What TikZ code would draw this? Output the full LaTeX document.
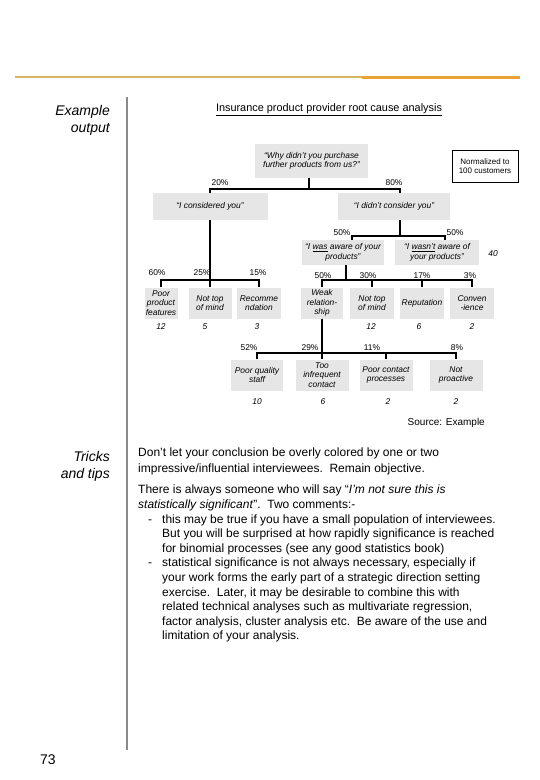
\documentclass[tikz,border=0pt]{standalone}
\usepackage{fontspec}
\setmainfont{Liberation Sans}
\definecolor{boxgray}{HTML}{E6E6E6}
\definecolor{goldA}{HTML}{D6B462}
\definecolor{goldB}{HTML}{E9A236}
\definecolor{divider}{HTML}{8A8A8A}
\begin{document}
\begin{tikzpicture}[x=1pt,y=-1pt,
  box/.style={fill=boxgray, inner sep=0.5pt, align=center, font=\fontsize{8.4}{9.4}\selectfont\itshape},
  pct/.style={font=\fontsize{8.4}{9.4}\selectfont, inner sep=0pt},
  num/.style={font=\fontsize{8.4}{9.4}\selectfont\itshape, inner sep=0pt},
  tree/.style={line width=1.5pt},
  side/.style={font=\fontsize{14}{17}\selectfont\itshape, align=right, inner sep=0pt, anchor=north east},
  body/.style={font=\fontsize{12}{14.6}\selectfont, align=left, inner sep=0pt, anchor=north west}
]
\useasboundingbox (0,0) rectangle (540,780);
% top rule
\coordinate (ruleL) at (15,77);
\coordinate (ruleM) at (362,77);
\coordinate (ruleR) at (520,77);
\draw[goldA, line width=2pt] (ruleL) -- (ruleM);
\draw[goldB, line width=3pt] (ruleM) -- (ruleR);
% divider
\coordinate (divT) at (127,97);
\coordinate (divB) at (127,750);
\draw[divider, line width=1.2pt] (divT) -- (divB);
% side labels
\node[side] (ex) at (110,105) {Example\\output};
\node[side] (tt) at (110,451) {Tricks\\and tips};
\node[font=\fontsize{14}{16}\selectfont, inner sep=0pt] (pg) at (48,760) {73};
% title
\node[font=\fontsize{10.9}{12}\selectfont, inner sep=0pt] (title) at (329,110) {\underline{Insurance product provider root cause analysis}};
% tree boxes
\node[box, minimum width=113pt, minimum height=34pt] (root) at (311.5,161) {“Why didn't you purchase\\further products from us?”};
\node[draw, fill=white, line width=0.7pt, minimum width=66pt, minimum height=32pt, align=center, inner sep=1pt, font=\fontsize{8}{9.5}\selectfont] (norm) at (485,166) {Normalized to\\100 customers};
\node[box, minimum width=115pt, minimum height=27pt] (cons) at (210,206.5) {“I considered you”};
\node[box, minimum width=112pt, minimum height=27pt] (ncons) at (394,206.5) {“I didn't consider you”};
\node[box, minimum width=82pt, minimum height=25pt] (was) at (343,252.5) {“I \underline{was} aware of your\\products”};
\node[box, minimum width=84pt, minimum height=25pt] (wasnt) at (437,252.5) {“I \underline{wasn't} aware of\\your products”};
\node[num] (n40) at (493,254) {40};
% level under "I considered you"
\node[box, minimum width=33pt, minimum height=31pt] (p1) at (161,303) {Poor\\product\\features};
\node[box, minimum width=43pt, minimum height=31pt] (p2) at (210,303) {Not top\\of mind};
\node[box, minimum width=44pt, minimum height=31pt] (p3) at (259,303) {Recomme\\ndation};
% level under "I was aware"
\node[box, minimum width=42pt, minimum height=31pt] (w1) at (322,303) {Weak\\relation-\\ship};
\node[box, minimum width=44pt, minimum height=31pt] (w2) at (372,303) {Not top\\of mind};
\node[box, minimum width=44pt, minimum height=31pt] (w3) at (422,303) {Reputation};
\node[box, minimum width=44pt, minimum height=31pt] (w4) at (472,303) {Conven\\-ience};
% level under "Weak relationship"
\node[box, minimum width=52pt, minimum height=31pt] (r1) at (257,375) {Poor quality\\staff};
\node[box, minimum width=53pt, minimum height=31pt] (r2) at (322,375) {Too\\infrequent\\contact};
\node[box, minimum width=53pt, minimum height=31pt] (r3) at (386,375) {Poor contact\\processes};
\node[box, minimum width=53pt, minimum height=31pt] (r4) at (456,375) {Not\\proactive};
% connectors
\coordinate (bar1) at (309,189);
\draw[tree] (root.south -| bar1) -- (bar1);
\draw[tree] (cons.north) |- (bar1) -| (ncons.north -| 400,0);
\coordinate (bar2) at (400,236);
\draw[tree] (ncons.south -| bar2) -- (bar2);
\coordinate (bar2L) at (352,236);
\coordinate (bar2R) at (445,236);
\draw[tree] (was.north -| bar2L) -- (bar2L) -- (bar2R) -- (wasnt.north -| bar2R);
\coordinate (bar3) at (210,280);
\draw[tree] (cons.south) -- (p2.north);
\draw[tree] (p1.north) |- (bar3) -| (p3.north);
\coordinate (bar4) at (346,280);
\draw[tree] (was.south -| bar4) -- (bar4);
\draw[tree] (w1.north) |- (bar4) -| (w4.north);
\draw[tree] (w2.north) -- (w2.north |- bar4);
\draw[tree] (w3.north) -- (w3.north |- bar4);
\coordinate (bar5) at (322,353);
\draw[tree] (w1.south) -- (r2.north);
\draw[tree] (r1.north) |- (bar5) -| (r4.north);
\draw[tree] (r3.north) -- (r3.north |- bar5);
% percentages
\node[pct] (q20) at (220,183) {20\%};
\node[pct] (q80) at (394,183) {80\%};
\node[pct] (q50a) at (342,233) {50\%};
\node[pct] (q50b) at (455,233) {50\%};
\node[pct] (q60) at (157,273) {60\%};
\node[pct] (q25) at (202,273) {25\%};
\node[pct] (q15) at (258,273) {15\%};
\node[pct] (q50c) at (323,276) {50\%};
\node[pct] (q30) at (368,276) {30\%};
\node[pct] (q17) at (422,276) {17\%};
\node[pct] (q3) at (470,276) {3\%};
\node[pct] (q52) at (249,348) {52\%};
\node[pct] (q29) at (310,348) {29\%};
\node[pct] (q11) at (372,348) {11\%};
\node[pct] (q8) at (457,348) {8\%};
% counts
\node[num] (c12a) at (161,327) {12};
\node[num] (c5) at (205,327) {5};
\node[num] (c3) at (257,327) {3};
\node[num] (c12b) at (371,327) {12};
\node[num] (c6a) at (419,327) {6};
\node[num] (c2a) at (472,327) {2};
\node[num] (c10) at (257,402) {10};
\node[num] (c6b) at (323,402) {6};
\node[num] (c2b) at (388,402) {2};
\node[num] (c2c) at (456,402) {2};
% source
\node[font=\fontsize{10}{12}\selectfont, inner sep=0pt, anchor=east] (src) at (485,423) {Source: Example};
% tips text
\node[body] (tip1) at (138,447.5) {Don't let your conclusion be overly colored by one or two\\[1.4pt]
impressive/influential interviewees.\ \ Remain objective.};
\node[body] (tip2) at (138,485) {There is always someone who will say “\textit{I'm not sure this is}\\
\textit{statistically significant}”.\ \ Two comments:-\\
\hspace*{10pt}\makebox[14pt][l]{-}this may be true if you have a small population of interviewees.\\
\hspace*{24pt}But you will be surprised at how rapidly significance is reached\\
\hspace*{24pt}for binomial processes (see any good statistics book)\\
\hspace*{10pt}\makebox[14pt][l]{-}statistical significance is not always necessary, especially if\\
\hspace*{24pt}your work forms the early part of a strategic direction setting\\
\hspace*{24pt}exercise.\ \ Later, it may be desirable to combine this with\\
\hspace*{24pt}related technical analyses such as multivariate regression,\\
\hspace*{24pt}factor analysis, cluster analysis etc.\ \ Be aware of the use and\\
\hspace*{24pt}limitation of your analysis.};
\end{tikzpicture}
\end{document}
